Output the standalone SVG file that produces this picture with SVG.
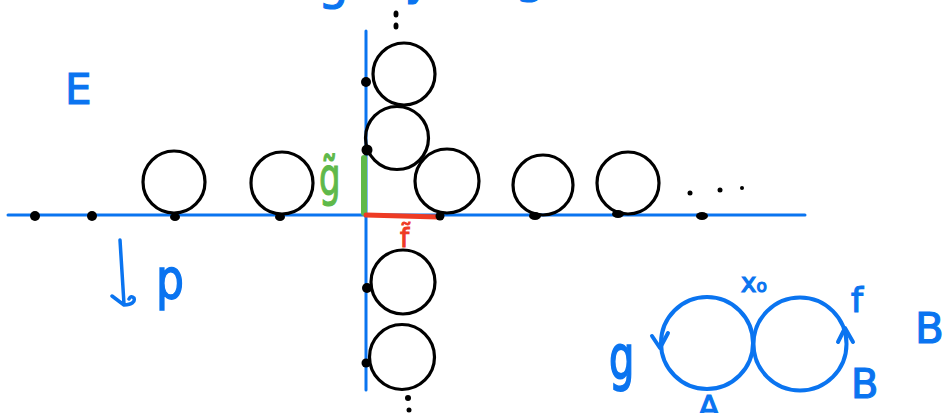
<svg xmlns="http://www.w3.org/2000/svg" width="951" height="413" viewBox="0 0 951 413">
<style>
.ax{stroke:#0a74f0;stroke-width:3;fill:none;stroke-linecap:round}
.bc{stroke:#0a74f0;stroke-width:4;fill:none;stroke-linecap:round;stroke-linejoin:round}
.k{stroke:#000;stroke-width:3.2;fill:none}
.d{fill:#000}
.bt{fill:#0a74f0;stroke:#0a74f0;stroke-width:1.2;font-family:"DejaVu Sans","Liberation Sans",sans-serif}
</style>
<rect width="951" height="413" fill="#fff"/>
<g id="top-fragments">
<text class="bt" x="318" y="-1" font-size="48">g</text>
<text class="bt" x="405" y="-5" font-size="44">y</text>
<text class="bt" x="515" y="-8" font-size="48">g</text>
</g>
<g id="axes">
<line class="ax" x1="8" y1="215" x2="805" y2="215"/>
<line class="ax" x1="366" y1="31" x2="366" y2="390"/>
</g>
<g id="lifts">
<line x1="364" y1="158" x2="364" y2="213" stroke="#5fb94a" stroke-width="6" stroke-linecap="round"/>
<path d="M366 215 L438 217" stroke="#ee3b24" stroke-width="5" stroke-linecap="round" fill="none"/>
<text transform="translate(319,195) scale(1,1.55)" font-size="34" fill="#5fb94a" stroke="#5fb94a" stroke-width="0.8" font-family="DejaVu Sans,sans-serif">g̃</text>
<text x="400" y="247" font-size="26" fill="#ee3b24" stroke="#ee3b24" stroke-width="1" font-family="DejaVu Sans,sans-serif">f̃</text>
</g>
<g id="circles">
<circle class="k" cx="174" cy="182" r="31"/>
<circle class="k" cx="282" cy="183" r="31"/>
<circle class="k" cx="404" cy="74" r="31"/>
<circle class="k" cx="397" cy="138" r="31.5"/>
<circle class="k" cx="447" cy="181" r="32"/>
<circle class="k" cx="543" cy="185" r="30"/>
<circle class="k" cx="628" cy="183" r="31"/>
<circle class="k" cx="403" cy="282" r="32"/>
<circle class="k" cx="402" cy="357" r="32.5"/>
</g>
<g id="dots">
<circle class="d" cx="35" cy="216" r="5"/>
<circle class="d" cx="92" cy="216" r="5"/>
<ellipse class="d" cx="175" cy="217" rx="5" ry="4"/>
<ellipse class="d" cx="280" cy="217" rx="5" ry="4"/>
<circle class="d" cx="440" cy="216" r="4.5"/>
<ellipse class="d" cx="535" cy="216" rx="6" ry="4"/>
<ellipse class="d" cx="618" cy="214" rx="6" ry="4"/>
<ellipse class="d" cx="702" cy="216" rx="6" ry="4"/>
<circle class="d" cx="690" cy="193" r="2.5"/>
<circle class="d" cx="720" cy="190" r="2.5"/>
<circle class="d" cx="742" cy="188" r="2"/>
<circle class="d" cx="366" cy="82" r="5"/>
<circle class="d" cx="367" cy="150" r="5.5"/>
<circle class="d" cx="367" cy="288" r="5"/>
<circle class="d" cx="366" cy="363" r="4.5"/>
<ellipse class="d" cx="396" cy="14" rx="2.5" ry="3.5"/>
<ellipse class="d" cx="396" cy="26" rx="2.5" ry="3.5"/>
<circle class="d" cx="408" cy="398" r="3"/>
<circle class="d" cx="409" cy="410" r="2.5"/>
</g>
<g id="labels-left">
<text class="bt" x="65" y="104" font-size="42">E</text>
<path class="bc" d="M120 240 L124 304 M112 296 L124 305 Q136 304 134 298 Q131 295 129 299" style="stroke-width:3.5"/>
<text class="bt" transform="translate(156,298) scale(1,1.25)" font-size="44">p</text>
</g>
<g id="wedge">
<circle class="bc" cx="707" cy="343" r="46"/>
<circle class="bc" cx="800" cy="344" r="46.5"/>
<path class="bc" d="M652 336 L660 348 L668 333"/>
<path class="bc" d="M838 342 L845 328 L853 342"/>
<text class="bt" x="741" y="292" font-size="26">x<tspan font-size="17">o</tspan></text>
<text class="bt" x="851" y="312" font-size="34">f</text>
<text class="bt" x="851" y="398" font-size="40">B</text>
<text class="bt" x="915" y="343" font-size="42">B</text>
<text class="bt" transform="translate(609,378) scale(1,1.5)" font-size="40">g</text>
<text class="bt" x="698" y="418" font-size="32">A</text>
</g>
</svg>
